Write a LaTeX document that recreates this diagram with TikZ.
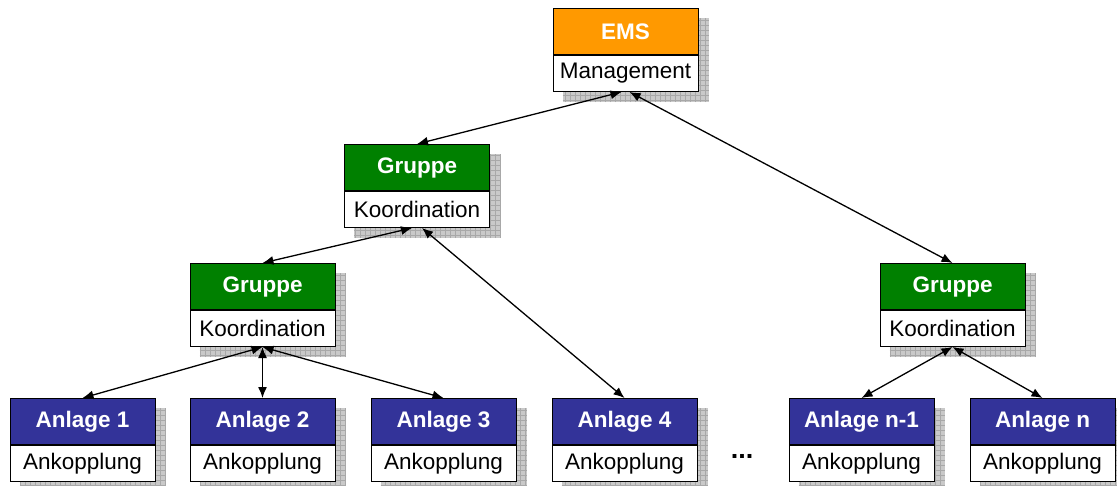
\documentclass[tikz,border=0pt]{standalone}
\usepackage{fontspec}
\setmainfont{Liberation Sans}
\usetikzlibrary{arrows.meta,backgrounds}
\definecolor{emsorange}{RGB}{255,153,0}
\definecolor{grpgreen}{RGB}{0,128,0}
\definecolor{anlblue}{RGB}{51,51,153}
\tikzset{
  head/.style={draw=black, line width=1pt, minimum width=145pt, minimum height=46pt,
    inner sep=0pt, font=\fontsize{22.5}{26}\selectfont\bfseries, text=white, anchor=north},
  body/.style={draw=black, fill=white, line width=1pt, minimum width=145pt, minimum height=36pt,
    inner sep=0pt, font=\fontsize{22.5}{26}\selectfont, anchor=north},
  link/.style={line width=1.3pt, {Latex[length=11pt,width=9pt]}-{Latex[length=11pt,width=9pt]}},
  shadowfill/.style={fill=gray!42},
  shadowgrid/.style={draw=gray!68, line width=0.5pt},
}
\newcommand\myblock[6]{%
  \node[head, fill=#4] (#1) at (#2,#3) {#5};
  \node[body] (#1b) at (#1.south) {#6};
  \begin{scope}[on background layer]
    \fill[shadowfill] ([shift={(10,10)}]#1.north west) rectangle ([shift={(10,10)}]#1b.south east);
    \draw[shadowgrid, step=5pt] ([shift={(10,10)}]#1.north west) grid ([shift={(10,10)}]#1b.south east);
  \end{scope}
}
\begin{document}
\begin{tikzpicture}[x=1pt,y=-1pt]
  \begin{scope}[on background layer]
    \fill[white] (0,0) rectangle (1117,485);
  \end{scope}
  \useasboundingbox (0,0) rectangle (1117,485);
  \myblock{ems}{625.5}{8}{emsorange}{EMS}{Management}
  \myblock{ga}{417}{144}{grpgreen}{Gruppe}{Koordination}
  \myblock{gb}{262.5}{263}{grpgreen}{Gruppe}{Koordination}
  \myblock{gc}{952.5}{263}{grpgreen}{Gruppe}{Koordination}
  \myblock{a1}{82.5}{398}{anlblue}{Anlage 1}{Ankopplung}
  \myblock{a2}{262.5}{398}{anlblue}{Anlage 2}{Ankopplung}
  \myblock{a3}{443.5}{398}{anlblue}{Anlage 3}{Ankopplung}
  \myblock{a4}{624.5}{398}{anlblue}{Anlage 4}{Ankopplung}
  \myblock{an1}{861.5}{398}{anlblue}{Anlage n-1}{Ankopplung}
  \myblock{an}{1042.5}{398}{anlblue}{Anlage n}{Ankopplung}
  \node[font=\fontsize{27}{30}\selectfont\bfseries] (dots) at (742,456) {...};
  \draw[link] ([xshift=-4pt]emsb.south) -- (ga.north);
  \draw[link] ([xshift=4pt]emsb.south) -- (gc.north);
  \draw[link] ([xshift=-5pt]gab.south) -- (gb.north);
  \draw[link] ([xshift=5pt]gab.south) -- (a4.north);
  \draw[link] (gbb.south) -- (a1.north);
  \draw[link] (gbb.south) -- (a2.north);
  \draw[link] (gbb.south) -- (a3.north);
  \draw[link] (gcb.south) -- (an1.north);
  \draw[link] (gcb.south) -- (an.north);
\end{tikzpicture}
\end{document}
